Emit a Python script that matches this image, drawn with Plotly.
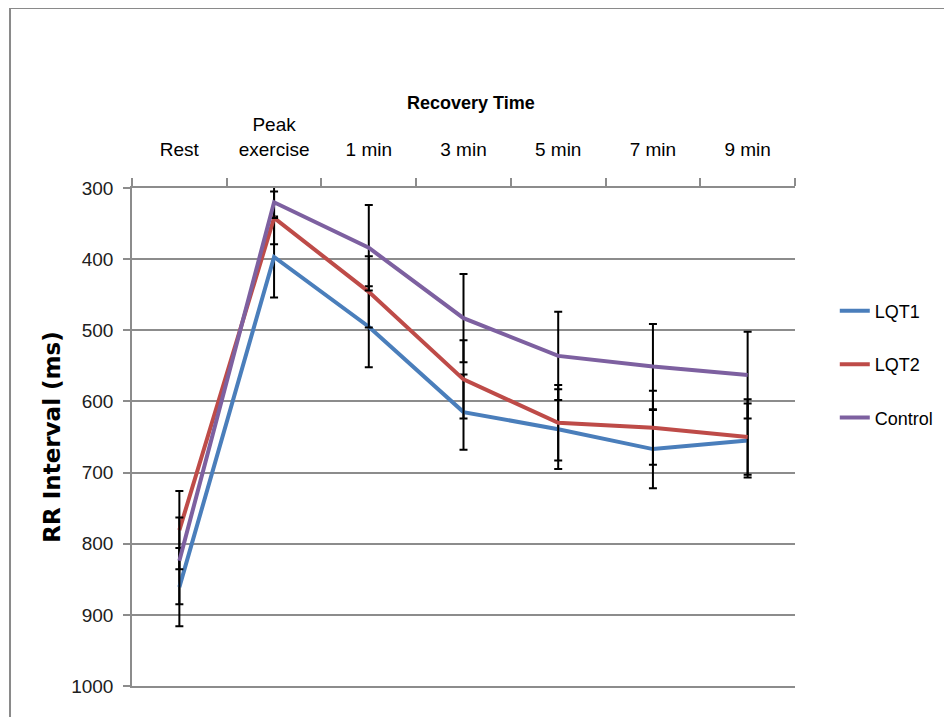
import plotly.graph_objects as go

categories = ["Rest", "Peak exercise", "1 min", "3 min", "5 min", "7 min", "9 min"]
tick_labels = ["Rest", "Peak<br>exercise", "1 min", "3 min", "5 min", "7 min", "9 min"]

lqt1 = [861, 397, 495, 615, 639, 667, 655]
lqt1_err = [55, 57, 57, 53, 56, 55, 52]
lqt2 = [781, 342, 446, 569, 630, 637, 650]
lqt2_err = [55, 37, 50, 55, 53, 52, 53]
control = [824, 320, 384, 483, 536, 551, 563]
control_err = [61, 22, 60, 62, 62, 60, 61]

series = [
    ("LQT1", lqt1, lqt1_err, "#4A7EBB"),
    ("LQT2", lqt2, lqt2_err, "#BE4B48"),
    ("Control", control, control_err, "#7D60A0"),
]

FONT = "Liberation Sans, Arial, sans-serif"
GRID = "#8C8C8C"

fig = go.Figure()
for name, vals, errs, color in series:
    fig.add_trace(go.Scatter(
        x=categories, y=vals, name=name, mode="lines",
        line=dict(color=color, width=4),
        error_y=dict(type="data", array=errs, visible=True,
                     color="black", thickness=2, width=4),
        legendgroup=name,
    ))

fig.update_layout(
    width=952, height=717,
    margin=dict(l=124, r=165, t=180, b=39, autoexpand=False),
    paper_bgcolor="white", plot_bgcolor="white",
    font=dict(family=FONT, size=19, color="black"),
    showlegend=True,
    legend=dict(x=1.06, xanchor="left", y=0.79, yanchor="top",
                traceorder="grouped", tracegroupgap=27,
                font=dict(family=FONT, size=18, color="black"),
                bgcolor="rgba(0,0,0,0)"),
    xaxis=dict(
        type="category", side="top", automargin=False,
        tickmode="array", tickvals=categories, ticktext=tick_labels,
        tickson="boundaries", ticks="outside", ticklen=8, tickcolor=GRID,
        tickwidth=1.5,
        showline=True, mirror=True, linecolor=GRID, linewidth=1.5,
        showgrid=False, zeroline=False,
        tickfont=dict(family=FONT, size=19, color="black"),
        ticklabelstandoff=23,
        range=[-0.5, 6.5],
    ),
    yaxis=dict(
        range=[1000, 300], dtick=100, tick0=300, automargin=False,
        ticks="outside", ticklen=7, tickcolor=GRID, tickwidth=1.5,
        showline=True, linecolor=GRID, linewidth=1.5,
        showgrid=True, gridcolor=GRID, gridwidth=1.5, zeroline=False,
        tickfont=dict(family=FONT, size=19, color="#202020"),
        ticklabelstandoff=6,
        title=dict(text="<b>RR Interval (ms)</b>", standoff=4,
                   font=dict(family="DejaVu Sans, Verdana, sans-serif", size=23, color="black")),
    ),
    annotations=[dict(
        text="<b>Recovery Time</b>", xref="paper", yref="paper",
        x=0.511, y=1.171, xanchor="center", yanchor="middle", showarrow=False,
        font=dict(family=FONT, size=18, color="black"),
    )],
    shapes=[dict(
        type="rect", xref="paper", yref="paper",
        x0=-0.184, x1=1.5, y0=-0.5, y1=1.3614,
        line=dict(color="#8A8A8A", width=2), fillcolor="rgba(0,0,0,0)",
        layer="below",
    )],
)

fig.write_html("out.html")
